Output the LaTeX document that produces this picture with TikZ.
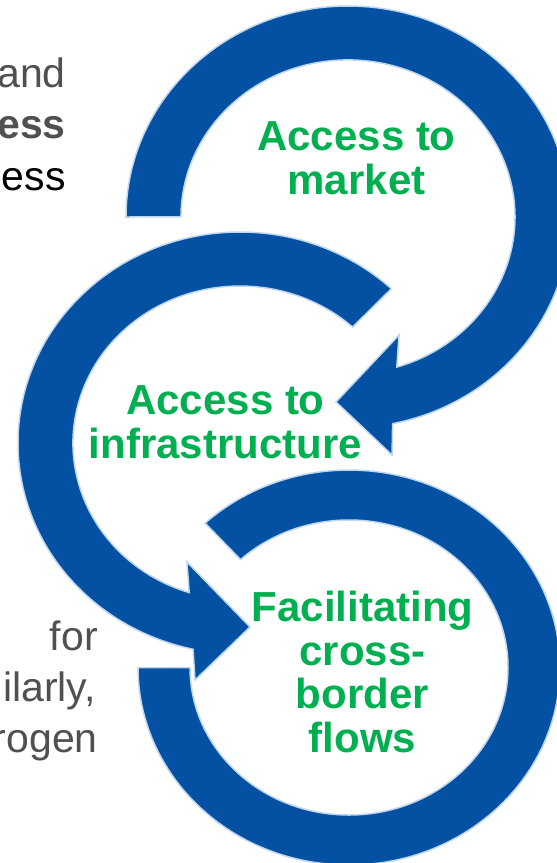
\documentclass[tikz,border=0pt]{standalone}
\usepackage{fontspec}
\setmainfont{Liberation Sans}
\definecolor{arrowblue}{RGB}{4,80,162}
\definecolor{edgeblue}{RGB}{190,215,240}
\definecolor{labelgreen}{RGB}{0,176,80}
\definecolor{textgray}{RGB}{80,80,80}
\begin{document}
\begin{tikzpicture}[x=1bp,y=-1bp,
  band/.style={fill=arrowblue, draw=edgeblue, line width=1.5bp, line join=miter},
  greenlabel/.style={text=labelgreen, font=\bfseries\fontsize{42bp}{43.5bp}\selectfont, align=center, inner sep=0pt, anchor=base},
  sidetext/.style={font=\fontsize{41bp}{51bp}\selectfont, inner sep=0pt, anchor=base east},
  sidebold/.style={font=\bfseries\fontsize{41bp}{51bp}\selectfont, inner sep=0pt, anchor=base east}]
\useasboundingbox (0,0) rectangle (557,863);
\clip (0,0) rectangle (557,863);
% arrow 1: access to market
\path[band] (126,217)
  arc[start angle=180, end angle=438.4, x radius=222, y radius=211]
  -- (392,455) -- (336,402) -- (399,335) -- (396.8,367.1)
  arc[start angle=433, end angle=180, x radius=167, y radius=157] -- cycle;
% arrow 2: access to infrastructure
\path[band] (391.4,288.7)
  arc[start angle=-47, end angle=-257.8, x radius=222, y radius=211]
  -- (195,680) -- (250,627) -- (187,562) -- (189.2,592.6)
  arc[start angle=-252.3, end angle=-47.6, x radius=167, y radius=157] -- cycle;
% arrow 3: facilitating cross-border flows
\path[band] (205.1,523.1)
  arc[start angle=-133, end angle=180, x radius=211, y radius=197.5]
  -- (190,667.5)
  arc[start angle=180, end angle=-133, x radius=159, y radius=147.5] -- cycle;
% labels (anchor = baseline of last line)
\node[greenlabel] (market) at (356.5,194) {Access to\\market};
\node[greenlabel] (infra) at (225.5,458) {Access to\\infrastructure};
\node[greenlabel] (flows) at (362.5,752) {Facilitating\\cross-\\border\\flows};
% clipped side text
\node[sidetext, text=textgray] (t1) at (66,87) {and};
\node[sidebold, text=textgray] (t2) at (66,138) {ess};
\node[sidetext, text=black] (t3) at (66,190) {ess};
\node[sidetext, text=textgray] (b1) at (98,650) {for};
\node[sidetext, text=textgray] (b2) at (96,701) {ilarly,};
\node[sidetext, text=textgray] (b3) at (98,752) {rogen};
\end{tikzpicture}
\end{document}
